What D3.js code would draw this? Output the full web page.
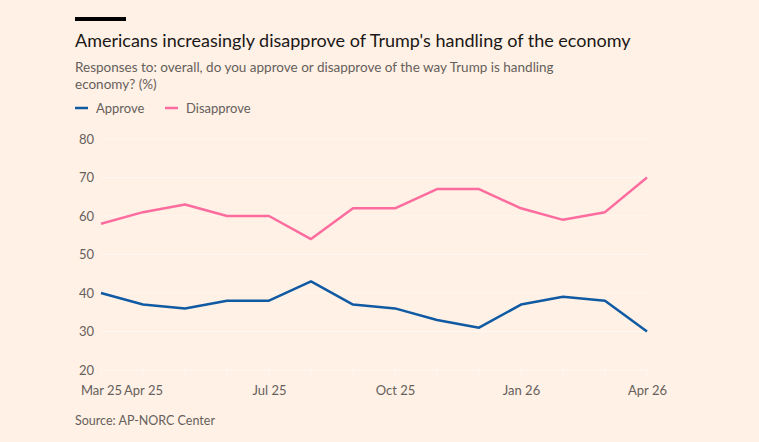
<!DOCTYPE html>
<html>
<head>
<meta charset="utf-8">
<script src="https://cdn.jsdelivr.net/npm/d3@7"></script>
<style>
  body { margin: 0; background: #fff1e5; }
  svg { display: block; font-family: Lato, 'Noto Sans', sans-serif; }
</style>
</head>
<body>
<div id="chart"></div>
<script>
// Data
const months = ['2025-03', '2025-04', '2025-05', '2025-06', '2025-07', '2025-08', '2025-09',
  '2025-10', '2025-11', '2025-12', '2026-01', '2026-02', '2026-03', '2026-04'];
const approve = [40, 37, 36, 38, 38, 43, 37, 36, 33, 31, 37, 39, 38, 30];
const disapprove = [58, 61, 63, 60, 60, 54, 62, 62, 67, 67, 62, 59, 61, 70];
const yTicks = [20, 30, 40, 50, 60, 70, 80];
const xTickMonths = ['2025-03', '2025-04', '2025-07', '2025-10', '2026-01', '2026-04'];
const xTickLabels = ['Mar 25', 'Apr 25', 'Jul 25', 'Oct 25', 'Jan 26', 'Apr 26'];

const W = 759, H = 442;
const margin = { l: 101, r: 112, t: 139, b: 72 };
const width = W - margin.l - margin.r;
const height = H - margin.t - margin.b;

const svg = d3.select('#chart').append('svg')
  .attr('width', W).attr('height', H);

svg.append('rect').attr('width', W).attr('height', H).attr('fill', '#fff1e5');

// header
svg.append('rect').attr('x', 75).attr('y', 17).attr('width', 51).attr('height', 4).attr('fill', '#000');
svg.append('text').attr('x', 75).attr('y', 47).attr('font-size', 18).attr('fill', '#1a1817')
  .text("Americans increasingly disapprove of Trump's handling of the economy");
svg.append('text').attr('x', 75).attr('y', 72).attr('font-size', 13.5).attr('fill', '#66605c')
  .text('Responses to: overall, do you approve or disapprove of the way Trump is handling');
svg.append('text').attr('x', 75).attr('y', 89).attr('font-size', 13.5).attr('fill', '#66605c')
  .text('economy? (%)');

// legend
const series = [
  { name: 'Approve', values: approve, color: '#0f5aa3' },
  { name: 'Disapprove', values: disapprove, color: '#fc6c9f' },
];
const legendX = [75, 165];
series.forEach((s, i) => {
  svg.append('line').attr('x1', legendX[i]).attr('x2', legendX[i] + 13)
    .attr('y1', 108).attr('y2', 108).attr('stroke', s.color).attr('stroke-width', 2.5);
  svg.append('text').attr('x', legendX[i] + 21).attr('y', 112.5).attr('font-size', 13)
    .attr('fill', '#66605c').text(s.name);
});

const g = svg.append('g').attr('transform', `translate(${margin.l},${margin.t})`);

const x = d3.scalePoint().domain(months).range([0, width]);
const y = d3.scaleLinear().domain([20, 80]).range([height, 0]);

// grid
g.append('g').selectAll('line').data(yTicks).join('line')
  .attr('x1', 0).attr('x2', width)
  .attr('y1', (d) => y(d)).attr('y2', (d) => y(d))
  .attr('stroke', '#fff8f2').attr('stroke-width', 1);

g.append('g').selectAll('line').data(months).join('line')
  .attr('x1', (d) => x(d)).attr('x2', (d) => x(d))
  .attr('y1', height).attr('y2', height + 7)
  .attr('stroke', '#fff8f2');

// y labels
const yAxis = d3.axisLeft(y).tickValues(yTicks).tickSize(0).tickPadding(7);
g.append('g').call(yAxis)
  .call((a) => a.select('.domain').remove())
  .selectAll('text')
  .attr('font-family', 'Lato, "Noto Sans", sans-serif')
  .attr('font-size', 13).attr('fill', '#66605c');

// x labels
const xAxis = d3.axisBottom(x).tickValues(xTickMonths)
  .tickFormat((d, i) => xTickLabels[i]).tickSize(0).tickPadding(16);
g.append('g').attr('transform', `translate(0,${height})`).call(xAxis)
  .call((a) => a.select('.domain').remove())
  .selectAll('text')
  .attr('font-family', 'Lato, "Noto Sans", sans-serif')
  .attr('font-size', 13).attr('fill', '#66605c');

// lines
const line = d3.line().x((d, i) => x(months[i])).y((d) => y(d));
series.forEach((s) => {
  g.append('path').datum(s.values).attr('d', line)
    .attr('fill', 'none').attr('stroke', s.color).attr('stroke-width', 2.5)
    .attr('stroke-linejoin', 'round');
});

// source
svg.append('text').attr('x', 75).attr('y', 425).attr('font-size', 12.5).attr('fill', '#66605c')
  .text('Source: AP-NORC Center');
</script>
</body>
</html>
